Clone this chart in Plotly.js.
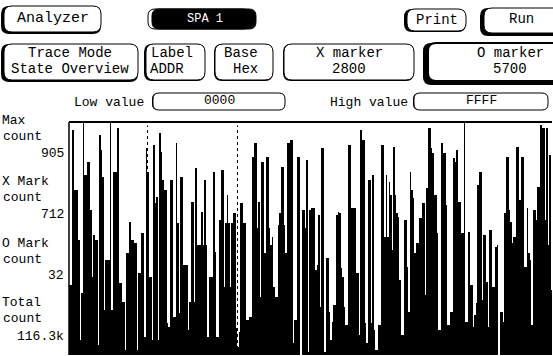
<!DOCTYPE html>
<html><head><meta charset="utf-8">
<script src="https://cdn.plot.ly/plotly-3.0.1.min.js"></script>
<style>html,body{margin:0;padding:0;background:#fff}</style>
</head><body>
<div id="chart" style="width:553px;height:356px"></div>
<script>
// ---- data: state overview histogram (counts per address bucket) ----
const peakCounts = [272,874,641,447,241,699,750,563,466,447,854,691,369,369,175,711,882,280,206,396,
517,447,435,318,474,70,712,303,816,614,862,680,641,109,680,148,513,691,350,350,
206,594,726,427,555,680,70,303,711,70,524,719,513,513,513,552,32,590,513,136,
148,769,823,594,750,396,769,427,264,225,552,730,396,823,835,136,769,0,563,757,
563,571,330,544,804,12,377,58,194,544,552,303,117,816,571,571,318,874,835,47,
680,699,19,117,816,458,458,621,808,552,291,78,524,167,641,396,435,532,590,649,
882,785,621,97,823,785,117,167,765,796,594,474,128,478,272,155,660,711,466,284,
486,264,419,0,167,552,769,517,458,808,602,769,342,396,117,563,653,893,882,882,777];
const gapCounts = [272,641,641,58,905,699,750,303,447,39,796,175,369,905,711,711,280,206,19,396,
447,435,19,318,474,804,303,58,590,58,788,641,124,680,148,823,163,691,350,97,
594,206,427,427,427,427,303,303,400,70,719,264,621,264,552,105,89,590,513,136,
148,823,493,225,750,769,493,458,225,505,730,505,823,835,47,136,769,563,493,12,
571,571,350,186,804,377,167,128,194,555,338,186,117,816,571,318,78,835,124,680,
124,97,19,117,816,699,672,408,621,536,78,524,342,711,610,435,532,590,233,882,
804,621,474,97,785,583,117,167,750,594,474,905,128,272,109,202,711,214,466,109,
486,264,427,167,128,769,563,435,458,808,769,342,571,369,563,524,653,882,524,427,252];
const maxCount = 905;
const xMarkerBin = 26, oMarkerBin = 56;
const sideLabels = [["Max","count","905"],["X Mark","count","712"],["O Mark","count","32"],["Total","count","116.3k"]];
const fieldTexts = {analyzer:"Analyzer", spa:"SPA 1", print:"Print", run:"Run",
  mode:["Trace Mode","State Overview"], label:["Label","ADDR"], base:["Base","Hex"],
  xm:["X marker","2800"], om:["O marker","5700"], low:["Low value","0000"], high:["High value","FFFF"]};

// ---- geometry ----
const W=553,H=356,L=69,T=122,B=1,R=1;
const PW=W-L-R, PH=H-T-B;
const X=x=>(x-L)/PW, Y=y=>(H-B-y)/PH;
const binW=3;
const idx=peakCounts.map((_,i)=>i);

const traces=[
 {type:'bar',x:idx.map(i=>i*binW+1),y:peakCounts,width:2,marker:{color:'#000',line:{width:0}},hoverinfo:'skip'},
 {type:'bar',x:idx.map(i=>i*binW+2.5),y:gapCounts,width:1,marker:{color:'#000',line:{width:0}},hoverinfo:'skip'}
];

function rr(x0,y0,x1,y1,r){
 const p=(x,y)=>X(x).toFixed(5)+','+Y(y).toFixed(5);
 return `M${p(x0+r,y0)} L${p(x1-r,y0)} Q${p(x1,y0)} ${p(x1,y0+r)} L${p(x1,y1-r)} Q${p(x1,y1)} ${p(x1-r,y1)} L${p(x0+r,y1)} Q${p(x0,y1)} ${p(x0,y1-r)} L${p(x0,y0+r)} Q${p(x0,y0)} ${p(x0+r,y0)} Z`;
}
const shapes=[];
function button(x0,y0,x1,y1,sx,sy,lw,r){
 r=r||8;
 if(sx||sy) shapes.push({type:'path',xref:'paper',yref:'paper',path:rr(x0-sx,y0,x1,y1+sy,r),fillcolor:'#000',line:{width:0}});
 shapes.push({type:'path',xref:'paper',yref:'paper',path:rr(x0,y0,x1,y1,r),fillcolor:'#fff',line:{color:'#000',width:lw||1}});
}
button(4,6,101,32,3,2);
shapes.push({type:'path',xref:'paper',yref:'paper',path:rr(148,9,250,29,7),fillcolor:'rgba(0,0,0,0)',line:{color:'#000',width:1}});
shapes.push({type:'path',xref:'paper',yref:'paper',path:rr(152,9,256,29,7),fillcolor:'#000',line:{color:'#000',width:1}});
button(407,9,466,31,3,1);
button(484,8,562,33,4,3);
button(4,44,138,80,3,2);
button(146,44,205,80,2,1);
button(215,44,273,80,1,1);
button(284,44,414,80,1,1);
button(428,43,562,81,5,4,2);
button(153,93,285,110,1,0,1,6);
button(414,93,548,110,1,0,1,6);

// plot frame
shapes.push({type:'line',xref:'paper',yref:'paper',x0:0,x1:1,y0:1,y1:1,line:{color:'#000',width:2}});
shapes.push({type:'line',xref:'paper',yref:'paper',x0:0,x1:0,y0:0,y1:1,line:{color:'#000',width:1.5}});
// markers
[xMarkerBin,oMarkerBin].forEach(b=>{
 shapes.push({type:'line',xref:'x',yref:'y',x0:b*binW+0.5,x1:b*binW+0.5,y0:0,y1:maxCount*0.985,line:{color:'#000',width:1,dash:'3px,3px'}});
});

const F='Liberation Mono';
const ann=[];
function t(text,x,y,anchor,size,color){
 ann.push({text:text,xref:'paper',yref:'paper',x:X(x),y:Y(y),xanchor:anchor||'center',yanchor:'middle',showarrow:false,
   font:{family:F,size:size||14,color:color||'#000'}});
}
t(fieldTexts.analyzer,53,19,'center',15);
t(fieldTexts.spa,205,19,'center',12,'#fff');
t(fieldTexts.print,437,20);
t(fieldTexts.run,521,19);
t(fieldTexts.mode[0],70,53); t(fieldTexts.mode[1],70,69);
t(fieldTexts.label[0],172,53); t(fieldTexts.label[1],148,69,'left');
t(fieldTexts.base[0],260,53,'right'); t(fieldTexts.base[1],260,69,'right');
t(fieldTexts.xm[0],349,53); t(fieldTexts.xm[1],349,69);
t(fieldTexts.om[0],510,53); t(fieldTexts.om[1],510,69);
t(fieldTexts.low[0],72,102,'left',13); t(fieldTexts.low[1],219,101,'center',13);
t(fieldTexts.high[0],328,102,'left',13); t(fieldTexts.high[1],481,101,'center',13);
const labelY=[[120,136,153],[181,197,214],[243,259,275],[302,318,336]];
sideLabels.forEach((g,k)=>{
 t(g[0],0,labelY[k][0],'left',13);
 t(g[1],1,labelY[k][1],'left',13);
 t(g[2],66,labelY[k][2],'right',13);
});

const layout={width:W,height:H,margin:{l:L,r:R,t:T,b:B,pad:0},paper_bgcolor:'#fff',plot_bgcolor:'#fff',
 showlegend:false,barmode:'overlay',bargap:0,
 xaxis:{range:[0,PW],showticklabels:false,showgrid:false,zeroline:false,ticks:'',fixedrange:true},
 yaxis:{range:[0,maxCount],showticklabels:false,showgrid:false,zeroline:false,ticks:'',fixedrange:true},
 shapes:shapes,annotations:ann};
Plotly.newPlot('chart',traces,layout,{staticPlot:true,displayModeBar:false});
</script>
</body></html>
